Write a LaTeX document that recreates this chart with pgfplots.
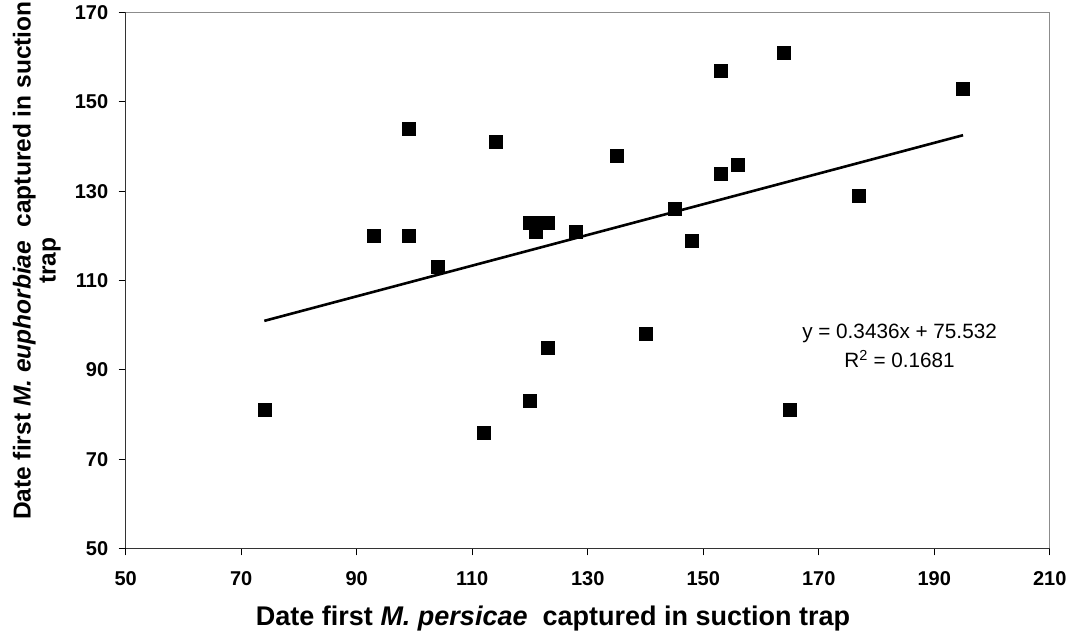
\documentclass[border=0pt]{standalone}
\usepackage{fontspec}
\setmainfont{Liberation Sans}
\usepackage{pgfplots}
\pgfplotsset{compat=1.18}
\begin{document}
\begin{tikzpicture}
\begin{axis}[
  scale only axis,
  width=924pt, height=536pt,
  at={(0,0)}, anchor=south west,
  xmin=50, xmax=210, ymin=50, ymax=170,
  xtick={50,70,...,210}, ytick={50,70,...,170},
  axis x line*=bottom, axis y line*=left,
  x axis line style={-, line width=1.2pt, color=black!80},
  y axis line style={-, line width=1.2pt, color=black!80},
  tick align=outside, major tick length=7pt,
  tick style={line width=1pt, color=black},
  /pgf/number format/assume math mode=true,
  ticklabel style={font=\fontsize{20}{22}\selectfont\bfseries},
  xticklabel style={yshift=-13pt},
  yticklabel style={xshift=-7pt},
  xlabel={Date first \textit{M. persicae}\ \ captured in suction trap},
  ylabel={Date first \textit{M. euphorbiae}\ \ captured in suction\\trap},
  ylabel style={font=\fontsize{24.5}{25}\selectfont\bfseries, at={(axis description cs:-0.070,0.537)}, anchor=south, inner sep=0pt, align=center},
  xlabel style={font=\fontsize{27}{27}\selectfont\bfseries, at={(axis description cs:0.4625,0)}, anchor=base, yshift=-77pt, inner sep=0pt},
  clip=false,
]
\addplot[only marks, mark=square*, mark size=6.5pt, mark options={fill=black, draw=black}] coordinates {
(74,81) (93,120) (99,120) (99,144) (104,113) (112,76) (114,141)
(120,83) (120,123) (121,121) (122,123) (123,123) (123,95) (128,121)
(135,138) (140,98) (145,126) (148,119) (153,134) (153,157) (156,136)
(164,161) (165,81) (177,129) (195,153)
};
\addplot[line width=2.6pt, black] coordinates {(74,100.96) (195,142.53)};
\node[align=center, font=\fontsize{20.7}{29}\selectfont] at (axis cs:184,95.3) {y = 0.3436x + 75.532\\R\textsuperscript{2} = 0.1681};
\draw[line width=1.2pt, black!45] (rel axis cs:0,1) -- (rel axis cs:1,1) -- (rel axis cs:1,0);
\end{axis}
\pgfresetboundingbox
\path[use as bounding box] (-125.7pt,-87.3pt) rectangle (947.3pt,548.5pt);
\end{tikzpicture}
\end{document}
